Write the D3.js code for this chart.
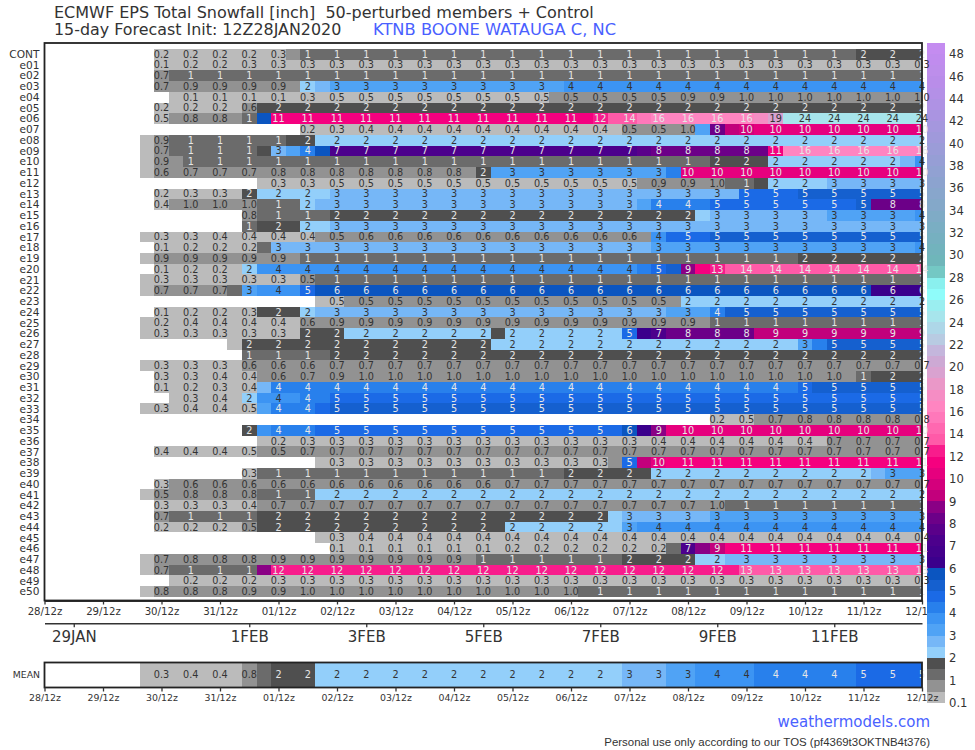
<!DOCTYPE html>
<html><head><meta charset="utf-8">
<script src="https://cdn.jsdelivr.net/npm/d3@7"></script>
<style>html,body{margin:0;padding:0;background:#fff}svg{display:block;font-family:"DejaVu Sans",sans-serif}</style>
</head><body><svg id="c" width="975" height="750"></svg>
<script>
// Time grid: forecast step index k = 6-hourly steps since init
const initTime = Date.UTC(2020,0,28,12);
const stepCount = 60;
const labelFirstStep = 8;

// Members, each one a step trace: [forecast step, accumulated snowfall in inches from that step on]
const memberNames = ["CONT","e01","e02","e03","e04","e05","e06","e07","e08","e09","e10","e11","e12","e13","e14","e15","e16","e17","e18","e19","e20","e21","e22","e23","e24","e25","e26","e27","e28","e29","e30","e31","e32","e33","e34","e35","e36","e37","e38","e39","e40","e41","e42","e43","e44","e45","e46","e47","e48","e49","e50"];
const memberSteps = [
[[8,.2],[16,.3],[17,.7],[18,1.2],[56,1.7]],
[[8,.1],[10,.2],[14,.3]],
[[8,.7],[9,1.2]],
[[8,.7],[9,.9],[18,2.2],[19,2.7],[20,3.2],[36,3.7]],
[[9,.1],[18,.3],[20,.47],[35,.52],[44,.9],[48,.97]],
[[8,.2],[14,.6],[15,1.7]],
[[8,.47],[9,.8],[14,1.2],[15,5.7],[16,11.4],[38,12.4],[39,13.6],[41,15.5],[42,16.4],[49,17.5],[50,19.4],[51,24.4]],
[[18,.2],[20,.3],[22,.4],[40,.52],[44,.97],[45,3.2],[46,8.2],[47,9.2],[48,9.7],[49,10.4]],
[[7,.3],[8,.9],[9,1.2],[17,1.7],[19,2.2]],
[[7,.3],[8,.7],[9,1.2],[15,1.7],[16,2.7],[17,3.2],[18,4.2],[19,5.7],[20,7.2],[41,7.7],[42,8.2],[50,11.4],[51,16.4]],
[[7,.3],[8,.9],[10,1.2],[46,1.7],[50,2.2],[59,2.7],[60,3.7]],
[[7,.3],[8,.6],[10,.7],[16,.8],[30,1.7],[31,3.2],[43,4.2],[44,10.4]],
[[15,.3],[20,.47],[41,.9],[46,.97],[47,1.2],[49,1.7],[50,2.2],[54,2.7]],
[[8,.2],[10,.3],[14,1.7],[15,2.2],[20,2.7],[48,4.7],[52,5.2]],
[[8,.4],[9,.97],[15,1.2],[18,2.2],[19,2.7],[41,3.2],[42,4.2],[46,4.7],[56,5.2],[57,8.2]],
[[14,.8],[15,1.2],[20,1.7],[45,2.2],[46,2.7],[54,3.2],[60,3.7]],
[[14,1.2],[15,1.7],[18,2.2],[20,2.7]],
[[7,.3],[12,.4],[19,.52],[22,.6],[42,3.7],[43,4.7],[46,5.2]],
[[8,.1],[10,.2],[15,1.2],[16,2.7],[42,3.2],[60,3.7]],
[[7,.3],[8,.9],[18,1.2],[52,1.7]],
[[8,.1],[10,.2],[14,2.2],[15,3.7],[41,4.2],[42,4.7],[43,5.2],[44,8.6],[45,11.4],[46,12.6],[47,13.6]],
[[7,.3],[18,.5],[19,1.2]],
[[7,.3],[8,.7],[13,1.2],[14,3.2],[15,3.7],[18,4.7],[19,5.7],[57,6.2]],
[[19,.47],[21,.52],[44,2.2]],
[[8,.1],[10,.2],[14,.3],[15,1.7],[18,2.2],[19,2.7],[43,3.2],[46,4.2],[47,5.2]],
[[7,.2],[10,.4],[18,.6],[20,.9],[46,1.2]],
[[7,.3],[18,1.7],[21,2.2],[31,1.7],[32,2.2],[40,4.7],[41,6.2],[42,7.2],[43,8.2],[49,9.2]],
[[13,.3],[14,1.7],[31,2.2],[52,3.2],[53,4.2],[54,5.2]],
[[14,1.2],[20,1.7]],
[[7,.3],[14,.6],[20,.7]],
[[8,.3],[12,.4],[15,.6],[18,.7],[20,.9],[22,.97],[56,1.2],[57,1.7]],
[[8,.1],[10,.2],[12,.3],[14,.4],[15,2.7],[16,4.2],[52,4.7],[53,5.2]],
[[9,.3],[12,.4],[14,2.2],[15,3.7],[18,4.2],[20,4.7]],
[[7,.3],[10,.4],[14,.47],[15,3.2],[16,4.2],[19,4.7],[20,5.2]],
[[46,.2],[48,.47],[49,.7],[52,.8]],
[[14,1.7],[15,3.7],[16,4.2],[19,4.7],[40,5.7],[41,6.4],[42,8.6],[43,10.4]],
[[15,.2],[18,.3],[42,.4],[54,.7]],
[[8,.4],[14,.47],[15,.52],[18,.7]],
[[19,.3],[39,.7],[40,4.7],[41,9.2],[42,10.4],[43,11.4]],
[[14,.3],[15,1.2],[36,1.7],[42,2.2],[57,2.7],[58,3.2]],
[[8,.3],[9,.6],[32,.7]],
[[7,.3],[8,.52],[10,.8],[15,1.2],[19,2.2]],
[[8,.3],[14,.4],[15,.7],[46,.97],[47,1.2]],
[[8,.7],[9,1.2],[15,1.7],[39,2.2],[40,2.7],[46,3.2]],
[[8,.2],[14,.5],[15,1.7],[32,2.2],[40,3.2],[41,3.7]],
[[19,.3],[22,.4]],
[[20,.1],[32,.2],[43,1.2],[44,7.2],[45,8.6],[46,9.2],[47,11.4]],
[[7,.3],[8,.7],[10,.8],[16,.9],[30,1.2],[40,1.7],[45,2.2],[47,2.7]],
[[7,.3],[8,.7],[9,1.2],[15,8.6],[16,12.4],[48,13.4]],
[[9,.2],[16,.3]],
[[7,.3],[8,.8],[14,.9],[18,.97],[37,1.2]]
];
const meanSteps = [[7,.3],[10,.4],[14,.8],[15,1.2],[16,1.7],[19,2.2],[40,2.7],[43,3.2],[45,3.7],[49,4.2],[56,4.7]];

// Colour bar
const bandLower = [.1,.5,1,1.5,2,2.5,3,3.5,4,4.5,5,5.5,6,6.5,7,7.5,8,8.5,9,9.5,10,11,12,13,14,15,16,17,18,19,20,21,22,23,24,25,26,27,28,29,30,31,32,33,34,35,36,37,38,39,40,41,42,43,44,45,46,47,48];
const bandColors = ["#bbbbbb","#929292","#6b6b6b","#4f4f4f","#93cffa","#76b7f7","#50a3f5","#3c94f3","#2880ec","#1b6ae6","#1560cf","#0b55c0","#3b008c","#44008c","#4c008c","#5a008a","#6c0088","#8a0085","#c2007c","#d4007c","#e6007e","#f5007f","#f81c8c","#ff5aa8","#ff68b0","#ff78ba","#ff85c1","#f58dc4","#ea98c8","#d9a2d0","#cda9d4","#c4b6dc","#b8cbe2","#aed7e8","#a7e5ec","#9aeef0","#8ffcfa","#8af0ee","#74c8c4","#6fb6ba","#72b3bd","#76b0c0","#7aaec3","#7fabc6","#84a8c9","#88a6cc","#8ca3cf","#91a1d2","#969ed5","#9b9cd8","#a099db","#a597de","#aa94e1","#af92e4","#b490e7","#b98de9","#bd8eeb","#c08cee","#c48cf0"];
const legendLabels = [.1,1,2,3,4,5,6,7,8,9,10,12,14,16,18,20,22,24,26,28,30,32,34,36,38,40,42,44,46,48];

// Axis tick labels
const dayTicks = d3.range(0,16).map(d=>new Date(initTime+d*864e5));
const dateTicks = [[0,29],[1,1],[1,3],[1,5],[1,7],[1,9],[1,11]].map(([m,d])=>new Date(Date.UTC(2020,m,d)));

const svg = d3.select("#c");
const ink = "#333";
const timeOf = k => new Date(initTime + k*216e5);
const x = d3.scaleUtc().domain([timeOf(0),timeOf(stepCount)]).range([44.5,922]);
const y = d3.scaleBand().domain(memberNames).range([48.8,596.9]);
const color = d3.scaleThreshold().domain(bandLower).range([null].concat(bandColors));
const stepValue = (steps,k)=>{let v=null;for(const s of steps){if(s[0]<=k)v=s[1];}return v;};
const fmt = v => v<1 ? v.toFixed(1) : String(Math.round(v));
const textFill = v => (v<1||(v>=2&&v<4)||v>=19) ? "#333" : "#e6e6e6";
const ks = d3.range(0,stepCount+1);
const left = k => x(timeOf(k-.5));
const right = k => Math.min(x(timeOf(k+.5)),922);

function cells(g,steps,y0,h){
  const data = ks.map(k=>({k,v:stepValue(steps,k)})).filter(d=>d.v!==null);
  g.selectAll(null).data(data).join("rect")
    .attr("x",d=>left(d.k)).attr("y",y0).attr("width",d=>right(d.k)-left(d.k)).attr("height",h)
    .attr("fill",d=>color(d.v)).attr("shape-rendering","crispEdges");
}
function cellText(g,steps,yc,size){
  const data = ks.filter(k=>k>=labelFirstStep&&k%2===0).map(k=>({k,v:stepValue(steps,k)})).filter(d=>d.v!==null);
  g.selectAll(null).data(data).join("text")
    .attr("x",d=>x(timeOf(d.k))).attr("y",yc).attr("dy",".36em").attr("text-anchor","middle")
    .attr("font-size",size).attr("fill",d=>textFill(d.v)).text(d=>fmt(d.v));
}
function styleAxis(g,size,w){
  g.select(".domain").attr("stroke",ink).attr("stroke-width",w);
  g.selectAll(".tick line").attr("stroke",ink).attr("stroke-width",1.3);
  g.selectAll(".tick text").attr("fill",ink).attr("font-size",size).attr("font-family",'"DejaVu Sans",sans-serif');
}

// cells
const cellsG = svg.append("g");
memberNames.forEach((n,i)=>cells(cellsG.append("g"),memberSteps[i],y(n),y.bandwidth()));
cells(cellsG.append("g"),meanSteps,662.5,25);

// upper time axis
const ax1 = svg.append("g").attr("transform","translate(0,600.5)")
  .call(d3.axisBottom(x).tickValues(dayTicks).tickSize(4).tickSizeOuter(0).tickPadding(3).tickFormat(d3.utcFormat("%d/%Hz")));
styleAxis(ax1,10.2,2);
// date axis
const ax2 = svg.append("g").attr("transform","translate(0,623.3)")
  .call(d3.axisBottom(x).tickValues(dateTicks).tickSize(4).tickSizeOuter(0).tickPadding(4).tickFormat(d=>d3.utcFormat("%-d%b")(d).toUpperCase()));
styleAxis(ax2,15,1.6);

// colour bar
const legY = d3.scaleLinear().domain([0,59]).range([702.7,42.8]);
const legendG = svg.append("g");
legendG.selectAll("rect").data(bandColors).join("rect")
  .attr("x",927).attr("width",18).attr("y",(d,i)=>legY(i+1)).attr("height",(d,i)=>legY(i)-legY(i+1))
  .attr("fill",d=>d).attr("shape-rendering","crispEdges");
legendG.selectAll("text").data(legendLabels).join("text")
  .attr("x",949).attr("y",(d,i)=>legY(i*2)).attr("dy",".36em").attr("font-size",11.6).attr("fill",ink).text(d=>d);

// member labels and cell text
const labels = svg.append("g");
labels.selectAll("text").data(memberNames).join("text")
  .attr("x",39.5).attr("y",d=>y(d)+y.bandwidth()/2).attr("dy",".36em").attr("text-anchor","end")
  .attr("font-size",10.6).attr("fill",ink).text(d=>d);
memberNames.forEach((n,i)=>cellText(svg.append("g"),memberSteps[i],y(n)+y.bandwidth()/2,9.7));
cellText(svg.append("g"),meanSteps,675,9.7);
svg.append("text").attr("x",40).attr("y",675).attr("dy",".36em").attr("text-anchor","end").attr("font-size",9.3).attr("fill",ink).text("MEAN");

// frames
svg.append("rect").attr("x",44.5).attr("y",43).attr("width",877.5).attr("height",557.5).attr("fill","none").attr("stroke","#222").attr("stroke-width",1.8);
svg.append("rect").attr("x",44.5).attr("y",662.5).attr("width",877.5).attr("height",25).attr("fill","none").attr("stroke","#222").attr("stroke-width",1.8);

// mean time axis
const ax3 = svg.append("g").attr("transform","translate(0,687.5)")
  .call(d3.axisBottom(x).tickValues(dayTicks).tickSize(4).tickSizeOuter(0).tickPadding(3).tickFormat(d3.utcFormat("%d/%Hz")));
styleAxis(ax3,9.4,0);

// titles
const title = svg.append("g");
title.append("text").attr("x",54).attr("y",18).attr("font-size",16).attr("fill",ink).text("ECMWF EPS Total Snowfall [inch]\u00a0\u00a050-perturbed members + Control");
title.append("text").attr("x",54).attr("y",35).attr("font-size",15.9).attr("fill",ink).text("15-day Forecast Init: 12Z28JAN2020");
title.append("text").attr("x",373).attr("y",35).attr("font-size",16.3).attr("fill","#4a5fff").text("KTNB BOONE WATAUGA C, NC");
svg.append("text").attr("x",930).attr("y",727).attr("text-anchor","end").attr("font-size",15).attr("fill","#4a62ff").text("weathermodels.com");
svg.append("text").attr("x",930).attr("y",745.5).attr("text-anchor","end").attr("font-size",11.45).attr("fill","#333").style("font-family",'"Liberation Sans",sans-serif').text("Personal use only according to our TOS (pf4369t3OKTNB4t376)");
</script></body></html>
